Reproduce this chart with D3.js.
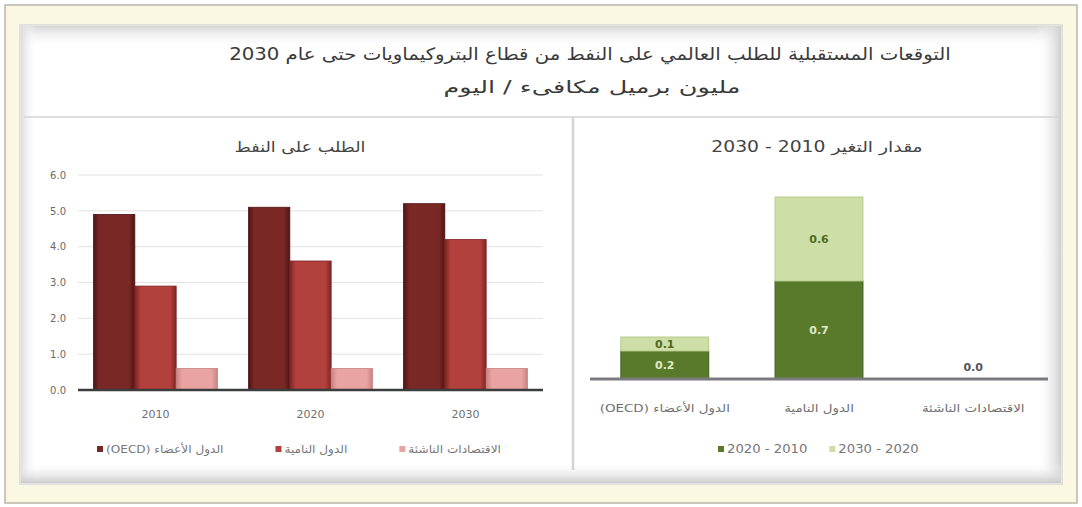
<!DOCTYPE html>
<html lang="ar">
<head>
<meta charset="utf-8">
<script src="https://cdn.jsdelivr.net/npm/d3@7"></script>
<style>
  html, body { margin: 0; padding: 0; background: #ffffff; }
  svg { display: block; font-family: "DejaVu Sans", "Noto Sans", sans-serif; }
</style>
</head>
<body>
<svg id="chart" width="1082" height="507"></svg>
<script>
// Oil demand from petrochemicals, million barrels of oil equivalent per day
const years = ["2010", "2020", "2030"];
const regions = ["الدول الأعضاء (OECD)", "الدول النامية", "الاقتصادات الناشئة"];
const oecdDemand = [4.9, 5.1, 5.2];
const developingDemand = [2.9, 3.6, 4.2];
const emergingDemand = [0.6, 0.6, 0.6];
const demandTicks = [0, 1, 2, 3, 4, 5, 6];

// Change in demand per region for each decade
const change2010to2020 = [0.2, 0.7, 0.0];
const change2020to2030 = [0.1, 0.6, 0.0];
const changePeriods = ["2020 - 2010", "2030 - 2020"];

const mainTitle = "التوقعات المستقبلية للطلب العالمي على النفط من قطاع البتروكيماويات حتى عام 2030";
const mainSubtitle = "مليون برميل مكافىء / اليوم";
const demandTitle = "الطلب على النفط";
const changeTitle = "مقدار التغير 2010 - 2030";

const svg = d3.select("#chart");
const defs = svg.append("defs");

// Arabic labels are set a little wider than the font's natural advance;
// returns the final rendered width
function widen(sel, factor) {
  let last = 0;
  sel.each(function () {
    const w = this.getComputedTextLength();
    last = w * factor;
    d3.select(this).attr("textLength", last).attr("lengthAdjust", "spacingAndGlyphs");
  });
  return last;
}

// ---------- frame ----------
svg.append("rect").attr("x", 5).attr("y", 5).attr("width", 1072).attr("height", 498)
  .attr("fill", "#faf7e3").attr("stroke", "#b9b6a6").attr("stroke-width", 1.5);
svg.append("rect").attr("x", 20).attr("y", 25).attr("width", 1042).attr("height", 459)
  .attr("fill", "#ffffff").attr("stroke", "#c9c9c9");

function edgeGradient(id, x1, y1, x2, y2, from) {
  const g = defs.append("linearGradient").attr("id", id)
    .attr("x1", x1).attr("y1", y1).attr("x2", x2).attr("y2", y2);
  g.append("stop").attr("offset", "0%").attr("stop-color", from);
  g.append("stop").attr("offset", "100%").attr("stop-color", "#ffffff").attr("stop-opacity", 0);
}
edgeGradient("shadeTop", 0, 0, 0, 1, "#d6d6d6");
edgeGradient("shadeLeft", 0, 0, 1, 0, "#dcdcdc");
edgeGradient("shadeRight", 1, 0, 0, 0, "#cfcfcf");
edgeGradient("shadeBottom", 0, 1, 0, 0, "#cbcbcb");
svg.append("rect").attr("x", 21).attr("y", 26).attr("width", 1040).attr("height", 22).attr("fill", "url(#shadeTop)");
svg.append("rect").attr("x", 21).attr("y", 26).attr("width", 16).attr("height", 457).attr("fill", "url(#shadeLeft)");
svg.append("rect").attr("x", 1036).attr("y", 26).attr("width", 25).attr("height", 457).attr("fill", "url(#shadeRight)");
svg.append("rect").attr("x", 21).attr("y", 462).attr("width", 1040).attr("height", 21).attr("fill", "url(#shadeBottom)");

// panel separators
svg.append("line").attr("x1", 24).attr("x2", 1058).attr("y1", 117).attr("y2", 117)
  .attr("stroke", "#d4d4d4").attr("stroke-width", 1.5);
svg.append("line").attr("x1", 573).attr("x2", 573).attr("y1", 117).attr("y2", 470)
  .attr("stroke", "#d4d4d4").attr("stroke-width", 2.5);

// ---------- titles ----------
widen(svg.append("text").attr("x", 590).attr("y", 60).attr("text-anchor", "middle")
  .attr("direction", "rtl").attr("font-size", 17).attr("fill", "#3a3a3a").text(mainTitle), 1.16);
widen(svg.append("text").attr("x", 592).attr("y", 93).attr("text-anchor", "middle")
  .attr("direction", "rtl").attr("font-size", 17).attr("fill", "#3a3a3a").text(mainSubtitle), 1.5);
widen(svg.append("text").attr("x", 300).attr("y", 152).attr("text-anchor", "middle")
  .attr("direction", "rtl").attr("font-size", 15).attr("fill", "#444").text(demandTitle), 1.17);
widen(svg.append("text").attr("x", 817).attr("y", 152).attr("text-anchor", "middle")
  .attr("direction", "rtl").attr("font-size", 15).attr("fill", "#444").text(changeTitle), 1.25);

// ---------- left: demand by year ----------
const demandSeries = [
  { name: regions[0], values: oecdDemand, color: "#7a2826", edge: "#4e1413" },
  { name: regions[1], values: developingDemand, color: "#b2403d", edge: "#7e2423" },
  { name: regions[2], values: emergingDemand, color: "#e9a3a3", edge: "#c98080" }
];

demandSeries.forEach((s, i) => {
  const g = defs.append("linearGradient").attr("id", "bar" + i).attr("x1", 0).attr("x2", 1).attr("y1", 0).attr("y2", 0);
  g.append("stop").attr("offset", "0%").attr("stop-color", s.edge);
  g.append("stop").attr("offset", "14%").attr("stop-color", s.color);
  g.append("stop").attr("offset", "86%").attr("stop-color", s.color);
  g.append("stop").attr("offset", "100%").attr("stop-color", s.edge);
});

const yL = d3.scaleLinear().domain([0, 6]).range([390, 175]);
const x0 = d3.scaleBand().domain(years).range([78, 543]).paddingInner(0.2).paddingOuter(0.1);
const x1 = d3.scaleBand().domain(d3.range(demandSeries.length)).range([0, x0.bandwidth()]);

const left = svg.append("g");
left.append("g").selectAll("line").data(demandTicks.filter(t => t > 0)).join("line")
  .attr("x1", 78).attr("x2", 543).attr("y1", d => yL(d)).attr("y2", d => yL(d))
  .attr("stroke", "#e2e2e2");

const yAxis = d3.axisLeft(yL).tickValues(demandTicks).tickFormat(d3.format(".1f")).tickSize(0).tickPadding(0);
left.append("g").attr("transform", "translate(66,0)").call(yAxis)
  .call(g => g.select(".domain").remove())
  .call(g => g.selectAll("text").attr("font-size", 10).attr("fill", "#6a6a6a")
    .attr("font-family", "DejaVu Sans, sans-serif"));

const groups = left.append("g").selectAll("g").data(years).join("g")
  .attr("transform", d => `translate(${x0(d)},0)`);
groups.selectAll("rect").data((d, yi) => demandSeries.map((s, si) => ({ si, v: s.values[yi] }))).join("rect")
  .attr("x", d => x1(d.si)).attr("width", x1.bandwidth())
  .attr("y", d => yL(d.v)).attr("height", d => yL(0) - yL(d.v))
  .attr("fill", d => `url(#bar${d.si})`)
  .attr("stroke", d => demandSeries[d.si].edge).attr("stroke-width", 0.8);

left.append("line").attr("x1", 78).attr("x2", 543).attr("y1", yL(0)).attr("y2", yL(0))
  .attr("stroke", "#3b3d3d").attr("stroke-width", 2.5);

const xAxisL = d3.axisBottom(x0).tickSize(0).tickPadding(0);
left.append("g").attr("transform", "translate(0,418)").call(xAxisL)
  .call(g => g.select(".domain").remove())
  .call(g => g.selectAll("text").attr("font-size", 11).attr("fill", "#707070").attr("dy", 0)
    .attr("font-family", "DejaVu Sans, sans-serif"));

// legend row (laid out from the measured label widths)
function legendRow(parent, items, startX, y, gap, size, stretch) {
  const row = parent.append("g");
  let cx = startX;
  items.forEach(it => {
    const g = row.append("g").attr("transform", `translate(${cx},${y})`);
    g.append("rect").attr("width", 6).attr("height", 6).attr("y", -7).attr("fill", it.color);
    const t = g.append("text").attr("x", 9).attr("y", 0).attr("font-size", size)
      .attr("fill", "#777").attr("direction", it.rtl ? "rtl" : "ltr")
      .attr("text-anchor", it.rtl ? "end" : "start").text(it.label);
    const w = widen(t, stretch);
    cx += 9 + w + gap;
  });
}
legendRow(left, demandSeries.map(s => ({ label: s.name, color: s.color, rtl: true })), 97, 453, 52, 11, 1.1);

// ---------- right: change per decade ----------
const changeSeries = [
  { name: changePeriods[0], values: change2010to2020, color: "#5a7a2b", edge: "#435d1d", label: "#dfe9c4" },
  { name: changePeriods[1], values: change2020to2030, color: "#cddfa7", edge: "#b7cc8a", label: "#4f6a24" }
];
const stacked = d3.stack().keys(d3.range(changeSeries.length))
  .value((d, k) => changeSeries[k].values[d])(d3.range(regions.length));

const yR = d3.scaleLinear().domain([0, 1.5]).range([379, 169]);
const xR = d3.scaleBand().domain(regions).range([590, 1048]).paddingInner(0.43).paddingOuter(0.2);

const right = svg.append("g");
stacked.forEach((layer, k) => {
  const s = changeSeries[k];
  right.append("g").selectAll("rect").data(layer.filter(d => d[1] - d[0] > 0)).join("rect")
    .attr("x", d => xR(regions[d.data])).attr("width", xR.bandwidth())
    .attr("y", d => yR(d[1])).attr("height", d => yR(d[0]) - yR(d[1]))
    .attr("fill", s.color).attr("stroke", s.edge).attr("stroke-width", 1);
});

// value labels
stacked.forEach((layer, k) => {
  const s = changeSeries[k];
  right.append("g").selectAll("text").data(layer.filter(d => d[1] - d[0] > 0)).join("text")
    .attr("x", d => xR(regions[d.data]) + xR.bandwidth() / 2)
    .attr("y", d => (yR(d[0]) + yR(d[1])) / 2 + 4)
    .attr("text-anchor", "middle").attr("font-size", 11).attr("font-weight", "bold")
    .attr("fill", s.label).text(d => d3.format(".1f")(d[1] - d[0]));
});
// zero change labels sit just above the axis
right.append("g").selectAll("text")
  .data(d3.range(regions.length).filter(i => change2010to2020[i] + change2020to2030[i] === 0)).join("text")
  .attr("x", i => xR(regions[i]) + xR.bandwidth() / 2).attr("y", yR(0) - 8)
  .attr("text-anchor", "middle").attr("font-size", 11).attr("font-weight", "bold")
  .attr("fill", "#555").text(i => d3.format(".1f")(change2010to2020[i] + change2020to2030[i]));

right.append("line").attr("x1", 590).attr("x2", 1048).attr("y1", yR(0)).attr("y2", yR(0))
  .attr("stroke", "#7b7b7f").attr("stroke-width", 3);

const xAxisR = d3.axisBottom(xR).tickSize(0).tickPadding(0);
right.append("g").attr("transform", "translate(0,412)").call(xAxisR)
  .call(g => g.select(".domain").remove())
  .call(g => { g.selectAll("text").attr("font-size", 11).attr("fill", "#707070").attr("dy", 0)
    .attr("direction", "rtl").attr("font-family", "DejaVu Sans, sans-serif"); widen(g.selectAll("text"), 1.22); });

legendRow(right, changeSeries.map(s => ({ label: s.name, color: s.color, rtl: false })), 718, 453, 22, 12, 1.1);
</script>
</body>
</html>
